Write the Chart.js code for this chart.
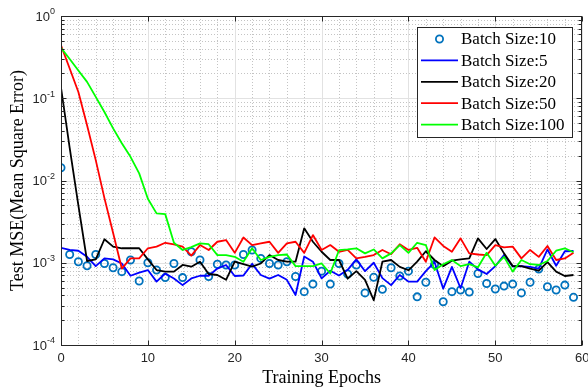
<!DOCTYPE html>
<html>
<head>
<meta charset="utf-8">
<script src="https://cdn.jsdelivr.net/npm/chart.js@4"></script>
<style>
  html, body { margin: 0; padding: 0; background: #fff; }
  #wrap { width: 588px; height: 391px; }
</style>
</head>
<body>
<div id="wrap"><canvas id="chart" width="588" height="391"></canvas></div>
<script>
const epochs = [0, 1, 2, 3, 4, 5, 6, 7, 8, 9, 10, 11, 12, 13, 14, 15, 16, 17, 18, 19,
    20, 21, 22, 23, 24, 25, 26, 27, 28, 29, 30, 31, 32, 33, 34, 35, 36, 37, 38, 39,
    40, 41, 42, 43, 44, 45, 46, 47, 48, 49, 50, 51, 52, 53, 54, 55, 56, 57, 58, 59];

// Batch Size:10 (markers only)
const bs10 = [1.43e-2, 1.26e-3, 1.03e-3, 9.2e-4, 1.26e-3, 9.8e-4, 8.7e-4, 7.8e-4, 1.08e-3, 6.0e-4,
    1.0e-3, 8.15e-4, 6.6e-4, 9.8e-4, 6.6e-4, 1.36e-3, 1.08e-3, 6.8e-4, 9.6e-4, 9.4e-4,
    9.4e-4, 1.26e-3, 1.43e-3, 1.13e-3, 9.8e-4, 9.4e-4, 1.03e-3, 6.8e-4, 4.45e-4, 5.5e-4,
    7.9e-4, 5.5e-4, 9.8e-4, 7.3e-4, 9.4e-4, 4.3e-4, 6.65e-4, 4.75e-4, 8.7e-4, 6.9e-4,
    7.9e-4, 3.85e-4, 5.8e-4, 9.5e-4, 3.36e-4, 4.45e-4, 4.66e-4, 4.4e-4, 7.4e-4, 5.6e-4,
    4.8e-4, 5.2e-4, 5.5e-4, 4.3e-4, 5.8e-4, 8.4e-4, 5.1e-4, 4.66e-4, 5.35e-4, 3.8e-4];

// Batch Size:5
const bs5 = [1.52e-3, 1.43e-3, 1.4e-3, 1.18e-3, 9.1e-4, 1.13e-3, 1.1e-3, 9.8e-4, 6.95e-4, 7.6e-4,
    8.15e-4, 5.9e-4, 7.4e-4, 6.45e-4, 5.35e-4, 6.45e-4, 6.95e-4, 6.95e-4, 8.5e-4, 9.4e-4,
    6.9e-4, 7.0e-4, 9.7e-4, 7.1e-4, 6.4e-4, 7.1e-4, 6.2e-4, 4.05e-4, 1.19e-3, 1.03e-3,
    6.45e-4, 8.0e-4, 7.0e-4, 8.2e-4, 1.1e-3, 7.9e-4, 1.0e-3, 6.5e-4, 5.35e-4, 7.1e-4,
    5.9e-4, 5.9e-4, 7.9e-4, 1.02e-3, 4.85e-4, 8.9e-4, 4.9e-4, 1.03e-3, 8.3e-4, 7.3e-4,
    9.1e-4, 1.24e-3, 9.0e-4, 9.1e-4, 8.9e-4, 8.5e-4, 1.45e-3, 9.2e-4, 1.38e-3, 1.39e-3];

// Batch Size:20
const bs20 = [0.135, 2.5e-2, 5.0e-3, 1.05e-3, 1.1e-3, 1.93e-3, 1.57e-3, 1.5e-3, 1.5e-3, 1.5e-3,
    1.1e-3, 8.15e-4, 7.8e-4, 7.8e-4, 9.4e-4, 8.95e-4, 1.03e-3, 7.3e-4, 7.1e-4, 6.2e-4,
    1.03e-3, 9.6e-4, 8.95e-4, 9.8e-4, 1.24e-3, 1.08e-3, 1.03e-3, 1.03e-3, 2.62e-3, 1.8e-3,
    1.36e-3, 1.08e-3, 1.08e-3, 6.4e-4, 7.9e-4, 6.2e-4, 3.5e-4, 1.03e-3, 1.08e-3, 8.9e-4,
    8.1e-4, 1.03e-3, 1.38e-3, 1.08e-3, 9.1e-4, 1.06e-3, 1.1e-3, 1.13e-3, 1.98e-3, 1.47e-3,
    1.94e-3, 1.3e-3, 9.1e-4, 9.1e-4, 8.5e-4, 8.0e-4, 1.02e-3, 7.8e-4, 6.9e-4, 7.1e-4];

// Batch Size:50
const bs50 = [0.44, 0.23, 0.119, 0.047, 0.0177, 6.1e-3, 2.3e-3, 8.5e-4, 1.13e-3, 1.13e-3,
    1.5e-3, 1.57e-3, 1.75e-3, 1.67e-3, 1.57e-3, 1.22e-3, 1.64e-3, 1.43e-3, 1.8e-3, 1.89e-3,
    1.32e-3, 2.03e-3, 1.64e-3, 1.72e-3, 1.8e-3, 1.32e-3, 1.72e-3, 1.8e-3, 1.32e-3, 2.17e-3,
    1.43e-3, 1.64e-3, 1.36e-3, 1.43e-3, 1.13e-3, 1.18e-3, 1.24e-3, 1.43e-3, 1.27e-3, 1.68e-3,
    1.43e-3, 1.52e-3, 1.03e-3, 2.03e-3, 1.6e-3, 1.36e-3, 1.98e-3, 1.3e-3, 1.26e-3, 1.24e-3,
    1.64e-3, 1.54e-3, 1.57e-3, 1.13e-3, 1.43e-3, 1.18e-3, 1.6e-3, 1.08e-3, 1.13e-3, 1.32e-3];

// Batch Size:100
const bs100 = [0.41, 0.30, 0.217, 0.158, 0.104, 0.068, 0.043, 0.0284, 0.0194, 0.0122,
    6.0e-3, 3.98e-3, 3.9e-3, 1.75e-3, 1.43e-3, 1.55e-3, 1.72e-3, 1.68e-3, 1.24e-3, 1.24e-3,
    1.18e-3, 1.03e-3, 1.5e-3, 1.08e-3, 1.18e-3, 1.24e-3, 1.26e-3, 9.1e-4, 9.1e-4, 9.1e-4,
    9.8e-4, 7.4e-4, 1.42e-3, 1.45e-3, 1.5e-3, 1.3e-3, 1.45e-3, 1.13e-3, 1.3e-3, 1.64e-3,
    1.32e-3, 1.75e-3, 1.64e-3, 8.15e-4, 9.6e-4, 1.08e-3, 9.1e-4, 9.6e-4, 8.8e-4, 1.32e-3,
    9.2e-4, 1.18e-3, 7.8e-4, 1.08e-3, 9.6e-4, 9.4e-4, 1.05e-3, 1.4e-3, 1.5e-3, 1.34e-3];

const seriesLabels = ['Batch Size:10', 'Batch Size:5', 'Batch Size:20', 'Batch Size:50', 'Batch Size:100'];
const xTicks = [0, 10, 20, 30, 40, 50, 60];
const yExponents = [0, -1, -2, -3, -4];
const xTitle = 'Training Epochs';
const yTitle = 'Test MSE(Mean Square Error)';

const axisColor = '#262626';
const serif = '"Liberation Serif", "Times New Roman", serif';
const sans = '"Liberation Sans", Arial, sans-serif';

function seg(ctx, x1, y1, x2, y2) {
    ctx.beginPath();
    ctx.moveTo(x1, y1);
    ctx.lineTo(x2, y2);
    ctx.stroke();
}

// MATLAB-like box, grid, ticks, labels and legend
const matlabAxes = {
    id: 'matlabAxes',
    beforeDraw(chart) {
        const { ctx, width, height } = chart;
        ctx.save();
        ctx.fillStyle = '#fff';
        ctx.fillRect(0, 0, width, height);
        ctx.restore();
    },
    beforeDatasetsDraw(chart) {
        const { ctx, chartArea: a, scales: { x, y } } = chart;
        ctx.save();
        ctx.lineWidth = 1;

        // minor grid, dotted
        ctx.strokeStyle = '#c4c4c4';
        ctx.setLineDash([1, 2]);
        for (let v = 2; v < 60; v += 2) {
            if (v % 10 === 0) continue;
            const px = Math.round(x.getPixelForValue(v)) + 0.5;
            seg(ctx, px, a.top, px, a.bottom);
        }
        for (const e of yExponents) {
            if (e === 0) continue;
            for (let m = 2; m <= 9; m++) {
                const py = Math.round(y.getPixelForValue(m * Math.pow(10, e))) + 0.5;
                seg(ctx, a.left, py, a.right, py);
            }
        }

        // major grid, solid
        ctx.setLineDash([]);
        ctx.strokeStyle = '#e2e2e2';
        for (const v of xTicks) {
            const px = Math.round(x.getPixelForValue(v)) + 0.5;
            seg(ctx, px, a.top, px, a.bottom);
        }
        for (const e of yExponents) {
            const py = Math.round(y.getPixelForValue(Math.pow(10, e))) + 0.5;
            seg(ctx, a.left, py, a.right, py);
        }
        ctx.restore();
    },
    afterDatasetsDraw(chart) {
        const { ctx, chartArea: a, scales: { x, y } } = chart;
        const L = Math.round(a.left) + 0.5, R = Math.round(a.right) - 0.5;
        const T = Math.round(a.top) + 0.5, B = Math.round(a.bottom) + 0.5;
        ctx.save();

        // box
        ctx.strokeStyle = axisColor;
        ctx.lineWidth = 1;
        ctx.strokeRect(L, T, R - L, B - T);

        // ticks, inward
        for (const v of xTicks) {
            const px = Math.round(x.getPixelForValue(v)) + 0.5;
            seg(ctx, px, B, px, B - 5);
            seg(ctx, px, T, px, T + 5);
        }
        for (const e of yExponents) {
            const py = Math.round(y.getPixelForValue(Math.pow(10, e))) + 0.5;
            seg(ctx, L, py, L + 5, py);
            seg(ctx, R, py, R - 5, py);
            if (e === 0) continue;
            for (let m = 2; m <= 9; m++) {
                const pm = Math.round(y.getPixelForValue(m * Math.pow(10, e))) + 0.5;
                seg(ctx, L, pm, L + 3, pm);
                seg(ctx, R, pm, R - 3, pm);
            }
        }

        // tick labels
        ctx.fillStyle = axisColor;
        ctx.textBaseline = 'middle';
        ctx.textAlign = 'center';
        ctx.font = '13px ' + sans;
        for (const v of xTicks) {
            ctx.fillText(String(v), x.getPixelForValue(v), 358);
        }
        ctx.textAlign = 'left';
        for (const e of yExponents) {
            const py = y.getPixelForValue(Math.pow(10, e));
            const sup = String(e);
            ctx.font = '9px ' + sans;
            const sw = ctx.measureText(sup).width;
            ctx.font = '13px ' + sans;
            const bw = ctx.measureText('10').width;
            const right = a.left - 6;
            ctx.fillText('10', right - sw - bw, py + 1);
            ctx.font = '9px ' + sans;
            ctx.fillText(sup, right - sw, py - 4);
        }

        // axis titles
        ctx.fillStyle = '#000';
        ctx.textAlign = 'center';
        ctx.font = '18px ' + serif;
        ctx.fillText(xTitle, (a.left + a.right) / 2, 378);
        ctx.save();
        ctx.translate(18, (a.top + a.bottom) / 2);
        ctx.rotate(-Math.PI / 2);
        ctx.fillText(yTitle, 0, 0);
        ctx.restore();

        // legend
        const lx = 417.5, ly = 27.5, lw = 155, lh = 110;
        ctx.fillStyle = '#fff';
        ctx.fillRect(lx, ly, lw, lh);
        ctx.strokeStyle = axisColor;
        ctx.lineWidth = 1;
        ctx.strokeRect(lx, ly, lw, lh);
        ctx.font = '17px ' + serif;
        ctx.textAlign = 'left';
        chart.data.datasets.forEach((ds, i) => {
            const ry = 39 + i * 21.4;
            if (ds.showLine === false) {
                ctx.strokeStyle = ds.borderColor;
                ctx.lineWidth = ds.pointBorderWidth;
                ctx.beginPath();
                ctx.arc(439.5, ry, ds.pointRadius, 0, Math.PI * 2);
                ctx.stroke();
            } else {
                ctx.strokeStyle = ds.borderColor;
                ctx.lineWidth = ds.borderWidth;
                seg(ctx, 421, ry, 458, ry);
            }
            ctx.fillStyle = '#000';
            ctx.fillText(ds.label, 461, ry + 1);
        });
        ctx.restore();
    }
};

function lineSet(label, data, color, order) {
    return {
        label,
        data,
        borderColor: color,
        borderWidth: 1.8,
        pointRadius: 0,
        fill: false,
        tension: 0,
        borderJoinStyle: 'round',
        order,
    };
}

new Chart(document.getElementById('chart'), {
    type: 'line',
    data: {
        labels: epochs,
        datasets: [
            {
                label: seriesLabels[0],
                data: bs10,
                showLine: false,
                borderColor: '#0072bd',
                backgroundColor: 'rgba(0,0,0,0)',
                pointRadius: 3.6,
                pointBorderWidth: 1.8,
                pointBackgroundColor: 'rgba(0,0,0,0)',
                pointBorderColor: '#0072bd',
                order: 5,
            },
            lineSet(seriesLabels[1], bs5, '#0000ff', 4),
            lineSet(seriesLabels[2], bs20, '#000000', 3),
            lineSet(seriesLabels[3], bs50, '#ff0000', 2),
            lineSet(seriesLabels[4], bs100, '#00ff00', 1),
        ]
    },
    options: {
        responsive: false,
        animation: false,
        devicePixelRatio: 1,
        layout: { padding: { left: 61, right: 5, top: 16, bottom: 46 } },
        plugins: { legend: { display: false }, tooltip: { enabled: false } },
        scales: {
            x: { type: 'linear', min: 0, max: 60, display: false },
            y: { type: 'logarithmic', min: 1e-4, max: 1, display: false }
        }
    },
    plugins: [matlabAxes]
});
</script>
</body>
</html>
